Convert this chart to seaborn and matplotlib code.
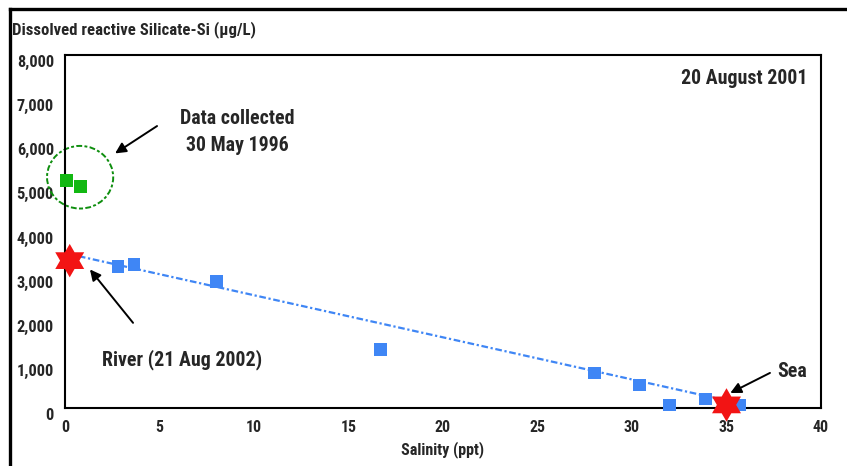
import numpy as np
import pandas as pd
import seaborn as sns
import matplotlib
matplotlib.use("Agg")
import matplotlib.pyplot as plt
from matplotlib.path import Path
from matplotlib.patches import Ellipse
from matplotlib.lines import Line2D
from matplotlib.transforms import ScaledTranslation
from matplotlib import font_manager

# Estuary survey, 20 August 2001
salinity = [2.8, 3.65, 8.0, 16.7, 28.0, 30.4, 32.0, 33.9, 35.7]
silicate = [3200, 3250, 2860, 1320, 795, 520, 70, 205, 70]

# Earlier samples, 30 May 1996
salinity_1996 = [0.1, 0.8]
silicate_1996 = [5160, 5020]

# End members: river (21 Aug 2002) and sea
endmember_salinity = [0.25, 35.0]
endmember_silicate = [3340, 70]

# Conservative mixing line between the end members
mix_salinity = [0.0, 35.0]
mix_silicate = [3510, 170]

x_ticks = [0, 5, 10, 15, 20, 25, 30, 35, 40]
y_ticks = [0, 1000, 2000, 3000, 4000, 5000, 6000, 7000, 8000]
y_tick_labels = ["0", "1,000", "2,000", "3,000", "4,000", "5,000", "6,000", "7,000", "8,000"]

sns.set_style("white")
names = {f.name for f in font_manager.fontManager.ttflist}
preferred = ["Liberation Sans Narrow", "Arial Narrow", "Roboto Condensed",
             "Open Sans Condensed", "Noto Sans Condensed", "DejaVu Sans Condensed",
             "Liberation Sans", "DejaVu Sans"]
family = [f for f in preferred if f in names]
plt.rcParams["font.family"] = family
plt.rcParams["font.weight"] = "bold"

BLUE = "#3F86F5"
GREEN = "#12B812"
RED = "#F21414"
TXT = 14.3

fig = plt.figure(figsize=(8.47, 4.66), dpi=100)
ax = fig.add_axes([65 / 847, 1 - 408 / 466, (821 - 65) / 847, (408 - 55) / 466])

# six-pointed star marker
ang_out = np.deg2rad(90 + 60 * np.arange(6))
ang_in = ang_out + np.deg2rad(30)
verts = []
for a, b in zip(ang_out, ang_in):
    verts.append((np.cos(a), np.sin(a)))
    verts.append((0.577 * np.cos(b), 0.577 * np.sin(b)))
verts.append(verts[0])
star = Path(verts, [Path.MOVETO] + [Path.LINETO] * 11 + [Path.CLOSEPOLY])

mix = pd.DataFrame({"salinity": mix_salinity, "silicate": mix_silicate})
sns.lineplot(data=mix, x="salinity", y="silicate", ax=ax, color=BLUE,
             lw=1.6, linestyle=(0, (3, 1.2, 1, 1.2)), zorder=2)

aug = pd.DataFrame({"salinity": salinity, "silicate": silicate})
sns.scatterplot(data=aug, x="salinity", y="silicate", ax=ax, marker="s",
                s=85, color=BLUE, edgecolor="none", zorder=3, clip_on=False)

may = pd.DataFrame({"salinity": salinity_1996, "silicate": silicate_1996})
sns.scatterplot(data=may, x="salinity", y="silicate", ax=ax, marker="s",
                s=85, color=GREEN, edgecolor="none", zorder=3, clip_on=False)

ends = pd.DataFrame({"salinity": endmember_salinity, "silicate": endmember_silicate})
sns.scatterplot(data=ends, x="salinity", y="silicate", ax=ax, marker=star,
                s=580, color=RED, edgecolor="none", zorder=4, clip_on=False)

ax.add_patch(Ellipse((0.8, 5230), 3.5, 1420, fill=False, ec="#0E8E0E",
                     lw=1.4, ls=(0, (1.5, 1.2, 3, 1.2)), zorder=2, clip_on=False))

ax.set_xlim(0, 40)
ax.set_ylim(0, 8000)
ax.set_xticks(x_ticks)
ax.set_xticks(np.arange(2.5, 40, 5), minor=True)
ax.set_yticks(y_ticks)
ax.set_yticklabels(y_tick_labels)
ax.set_yticks(np.arange(500, 8000, 1000), minor=True)
ax.tick_params(which="both", direction="in", length=6, width=1.5, color="black")
ax.tick_params(axis="x", which="major", pad=9, labelsize=11.4)
ax.tick_params(axis="y", which="major", pad=8, labelsize=11.8)
for lab in ax.get_yticklabels():
    lab.set_fontweight("bold")
    lab.set_transform(lab.get_transform() + ScaledTranslation(0, -0.06, fig.dpi_scale_trans))
for lab in ax.get_xticklabels():
    lab.set_fontweight("bold")

for side in ["left", "bottom", "top", "right"]:
    ax.spines[side].set_visible(True)
    ax.spines[side].set_color("black")
    ax.spines[side].set_linewidth(1.5)

ax.set_xlabel("Salinity (ppt)", fontsize=11.5, fontweight="bold", labelpad=4)
ax.set_ylabel("")

fig.text(12 / 847, 1 - 30 / 466, "Dissolved reactive Silicate-Si (µg/L)",
         fontsize=12.1, fontweight="bold", ha="left", va="center")

ax.text(39.26, 7477, "20 August 2001", fontsize=TXT, fontweight="bold",
        ha="right", va="center")
ax.text(9.1, 6260, "Data collected\n30 May 1996", fontsize=TXT, fontweight="bold",
        ha="center", va="center", linespacing=1.5)
ax.text(1.96, 1090, "River (21 Aug 2002)", fontsize=TXT, fontweight="bold",
        ha="left", va="center")
ax.text(37.67, 818, "Sea", fontsize=TXT, fontweight="bold", ha="left", va="center")

arrow = dict(arrowstyle="-|>", color="black", lw=1.4, mutation_scale=16,
             shrinkA=0, shrinkB=0)
ax.annotate("", xy=(2.65, 5770), xytext=(4.87, 6390), arrowprops=arrow)
ax.annotate("", xy=(1.32, 3140), xytext=(3.6, 1930), arrowprops=arrow)
ax.annotate("", xy=(35.2, 340), xytext=(37.3, 795), arrowprops=arrow)

# outer frame along top and left edges
fig.add_artist(Line2D([10 / 847, 10 / 847], [0, 1 - 9 / 466], transform=fig.transFigure,
                      color="black", lw=2.4, solid_capstyle="projecting"))
fig.add_artist(Line2D([10 / 847, 1], [1 - 9 / 466, 1 - 9 / 466], transform=fig.transFigure,
                      color="black", lw=2.4, solid_capstyle="projecting"))

fig.savefig("out.png", dpi=100, facecolor="white")
